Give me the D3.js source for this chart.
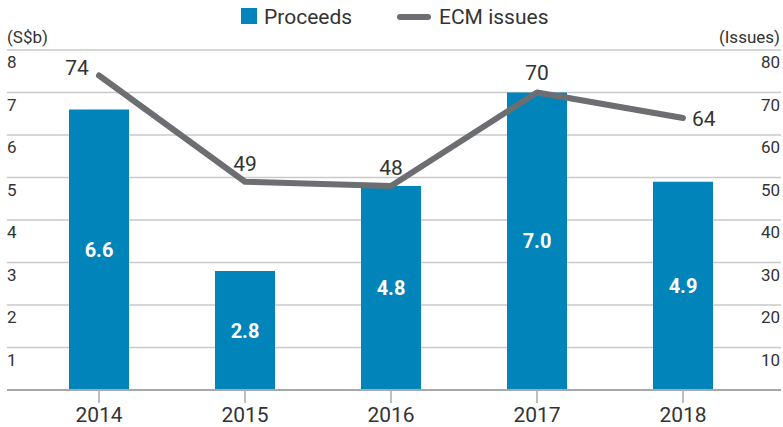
<!DOCTYPE html>
<html>
<head>
<meta charset="utf-8">
<script src="https://cdn.jsdelivr.net/npm/d3@7"></script>
<style>
  body { margin: 0; background: #fff; }
  text { font-family: Roboto, "Open Sans", sans-serif; fill: #333; }
</style>
</head>
<body>
<div id="chart"></div>
<script>
const years = ["2014", "2015", "2016", "2017", "2018"];
const proceeds = [6.6, 2.8, 4.8, 7.0, 4.9];
const issues = [74, 49, 48, 70, 64];
const leftTicks = [1, 2, 3, 4, 5, 6, 7, 8];
const rightTicks = [10, 20, 30, 40, 50, 60, 70, 80];

const width = 783, height = 427;
const barColor = "#0084b9", lineColor = "#6d6e71";

const svg = d3.select("#chart").append("svg")
  .attr("width", width).attr("height", height);

/* scales */
const x = d3.scalePoint().domain(years).range([26, 756]).padding(0.5);
const yL = d3.scaleLinear().domain([0, 8]).range([390, 50]);
const yR = d3.scaleLinear().domain([0, 80]).range([390, 50]);
const barW = 60;

/* gridlines */
svg.append("g").selectAll("line")
  .data(leftTicks)
  .join("line")
  .attr("x1", 7).attr("x2", 781)
  .attr("y1", d => yL(d)).attr("y2", d => yL(d))
  .attr("stroke", "#c9c9c9").attr("stroke-width", 1.5);

/* left axis labels */
svg.append("g").selectAll("text")
  .data(leftTicks)
  .join("text")
  .attr("x", 7).attr("y", d => yL(d) + 18)
  .attr("font-size", 17)
  .text(d => d);

/* right axis labels */
svg.append("g").selectAll("text")
  .data(rightTicks)
  .join("text")
  .attr("x", 780).attr("y", d => yR(d) + 18)
  .attr("text-anchor", "end")
  .attr("font-size", 17)
  .text(d => d);

svg.append("text").attr("x", 7).attr("y", 43).attr("font-size", 17).text("(S$b)");
svg.append("text").attr("x", 780).attr("y", 43).attr("font-size", 17)
  .attr("text-anchor", "end").text("(Issues)");

/* bars */
svg.append("g").selectAll("rect")
  .data(proceeds)
  .join("rect")
  .attr("x", (d, i) => x(years[i]) - barW / 2)
  .attr("width", barW)
  .attr("y", d => yL(d))
  .attr("height", d => yL(0) - yL(d))
  .attr("fill", barColor);

svg.append("g").selectAll("text")
  .data(proceeds)
  .join("text")
  .attr("x", (d, i) => x(years[i]))
  .attr("y", d => (yL(d) + yL(0)) / 2 + 7)
  .attr("text-anchor", "middle")
  .attr("font-size", 20).attr("font-weight", "bold")
  .style("fill", "#fff")
  .text(d => d.toFixed(1));

/* x axis */
const xAxis = svg.append("g");
xAxis.append("line")
  .attr("x1", 7).attr("x2", 781)
  .attr("y1", yL(0)).attr("y2", yL(0))
  .attr("stroke", "#a8a8a8").attr("stroke-width", 2);
xAxis.selectAll(".tick")
  .data(years)
  .join("line")
  .attr("x1", d => x(d)).attr("x2", d => x(d))
  .attr("y1", yL(0)).attr("y2", yL(0) + 13)
  .attr("stroke", "#a8a8a8").attr("stroke-width", 1.5);
xAxis.selectAll("text")
  .data(years)
  .join("text")
  .attr("x", d => x(d)).attr("y", 422)
  .attr("text-anchor", "middle")
  .attr("font-size", 21)
  .text(d => d);

/* line */
const line = d3.line()
  .x((d, i) => x(years[i]))
  .y(d => yR(d));
svg.append("path")
  .attr("d", line(issues))
  .attr("fill", "none")
  .attr("stroke", lineColor)
  .attr("stroke-width", 6)
  .attr("stroke-linecap", "round")
  .attr("stroke-linejoin", "round");

/* line labels */
const labelPos = [
  { dx: -22, dy: -1, anchor: "middle" },
  { dx: 0, dy: -11, anchor: "middle" },
  { dx: 0, dy: -11, anchor: "middle" },
  { dx: 0, dy: -13, anchor: "middle" },
  { dx: 9, dy: 8, anchor: "start" }
];
svg.append("g").selectAll("text")
  .data(issues)
  .join("text")
  .attr("x", (d, i) => x(years[i]) + labelPos[i].dx)
  .attr("y", (d, i) => yR(d) + labelPos[i].dy)
  .attr("text-anchor", (d, i) => labelPos[i].anchor)
  .attr("font-size", 21)
  .text(d => d);

/* legend */
const legend = svg.append("g");
legend.append("rect").attr("x", 241).attr("y", 8).attr("width", 16).attr("height", 16).attr("fill", barColor);
legend.append("text").attr("x", 264).attr("y", 24).attr("font-size", 21).text("Proceeds");
legend.append("line").attr("x1", 400).attr("x2", 428).attr("y1", 17).attr("y2", 17)
  .attr("stroke", lineColor).attr("stroke-width", 6).attr("stroke-linecap", "round");
legend.append("text").attr("x", 439).attr("y", 24).attr("font-size", 21).text("ECM issues");
</script>
</body>
</html>
